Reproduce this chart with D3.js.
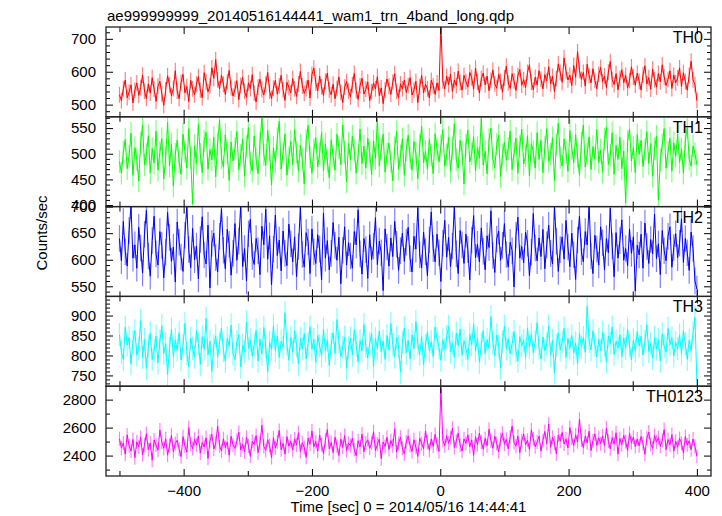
<!DOCTYPE html>
<html><head><meta charset="utf-8">
<script src="https://cdn.jsdelivr.net/npm/d3@7"></script>
<style>
body{margin:0;background:#fff}
text{font-family:"Liberation Sans",Arial,Helvetica,sans-serif}
</style>
</head><body>
<svg id="c" width="722" height="516"></svg>
<script>
const title = "ae999999999_20140516144441_wam1_trn_4band_long.qdp";
const xLabel = "Time [sec] 0 = 2014/05/16 14:44:41";
const yLabel = "Counts/sec";
const bandNames = ["TH0", "TH1", "TH2", "TH3", "TH0123"];
const bandColors = ["#ff0000", "#00ff00", "#0000ff", "#00ffff", "#ff00ff"];
const tStart = -500, tStep = 3;
const xDomain = [-521, 422];
const xTicksMajor = [-400, -200, 0, 200, 400];
const xTicksMinor = [-500, -300, -100, 100, 300];
const yDomains = [[463, 736], [397, 572], [531, 700], [723, 948], [2254, 2896]];
const yMajorStep = [100, 50, 50, 50, 200];
const yMinorStep = [20, 10, 10, 10, 100];
const bandErr = [24, 22, 25, 29, 50];

const th0 = [
530,512,548,575,521,538,560,505,544,566,
528,552,590,541,519,563,535,582,547,510,
556,571,533,498,545,588,560,527,549,603,
541,518,567,592,536,555,509,574,548,530,
562,585,544,521,597,568,539,556,612,580,
637,575,548,590,562,531,569,604,552,526,
547,573,515,558,583,540,522,566,549,591,
535,508,553,577,546,529,562,598,541,519,
550,574,532,557,589,545,513,568,552,536,
579,548,525,563,601,557,534,549,575,520,
592,611,566,542,587,554,528,571,596,545,
530,562,518,549,584,537,506,553,570,541,
524,561,595,543,516,558,580,532,547,569,
512,539,566,548,585,527,551,503,545,578,
556,531,568,594,540,521,563,548,575,537,
558,582,529,544,571,506,553,589,536,562,
548,520,574,557,531,566,543,745,572,548,
586,561,593,540,575,558,602,567,544,589,
570,553,598,582,547,611,568,535,579,596,
560,587,542,574,605,563,550,592,571,538,
581,617,566,549,594,572,543,588,607,559,
576,552,598,621,568,545,583,560,603,577,
548,591,572,615,563,586,540,579,624,597,
568,642,601,575,590,558,619,583,661,604,
577,598,556,623,588,566,609,574,548,592,
613,570,587,552,599,631,576,561,594,545,
580,606,567,589,551,573,615,584,559,596,
571,544,590,618,563,582,547,608,576,553,
595,569,621,584,558,577,603,549,590,566,
581,612,555,597,570,544,589,632,575,561,
512];

const th1 = [
485,462,503,528,471,495,540,458,512,489,
447,521,556,478,499,535,463,510,482,544,
468,503,529,451,492,561,476,518,437,499,
527,484,460,538,505,472,549,493,402,516,
481,557,499,463,525,542,470,508,488,532,
455,519,566,492,474,537,501,448,523,486,
510,543,469,497,528,456,514,551,482,466,
535,490,461,520,573,498,477,546,507,439,
512,484,529,563,470,501,538,458,492,524,
479,547,503,466,517,489,441,526,555,494,
462,508,531,474,500,542,467,519,486,453,
527,495,468,538,512,479,556,503,445,521,
488,534,506,462,497,548,481,515,472,530,
503,459,525,491,568,476,509,538,464,499,
521,485,447,512,543,470,496,529,458,507,
536,493,468,524,501,451,517,553,482,505,
470,528,497,461,539,509,484,515,547,476,
498,532,465,511,559,488,472,526,503,441,
517,546,484,500,533,467,512,492,569,478,
505,461,527,550,489,473,518,536,455,498,
523,487,510,544,469,501,530,462,514,548,
480,496,535,457,520,504,472,541,489,526,
463,512,549,485,499,531,448,518,560,493,
476,529,503,466,545,511,482,537,495,458,
521,556,474,500,533,469,514,490,547,483,
507,464,528,552,479,497,541,460,516,489,
532,471,505,404,524,548,486,512,463,537,
499,526,475,508,543,481,520,456,510,534,
410,488,517,549,472,503,530,466,521,495,
538,483,509,462,527,551,490,476,515,500,
479];

const th2 = [
640,598,672,615,588,655,701,603,628,584,
661,622,575,648,693,607,569,636,682,611,
590,653,627,566,614,689,642,597,624,558,
671,633,605,578,646,702,619,585,659,600,
626,564,638,681,609,592,665,547,631,650,
604,577,644,696,618,583,657,629,571,612,
668,599,635,704,587,621,560,649,676,606,
591,640,617,572,663,628,695,601,645,553,
620,684,608,637,579,654,612,589,667,630,
596,643,568,625,699,610,586,651,634,574,
658,615,593,647,620,562,688,603,636,581,
612,670,627,599,642,555,618,662,590,632,
607,584,653,628,694,611,573,640,619,565,
647,600,626,679,591,635,613,542,658,624,
588,641,606,672,629,580,617,650,597,633,
661,602,577,644,620,698,609,585,652,615,
570,637,690,621,596,648,613,559,631,674,
605,642,587,626,701,611,574,655,628,593,
648,619,562,637,683,604,629,596,660,616,
581,645,623,692,608,576,639,654,599,627,
668,610,586,633,617,549,646,680,603,625,
594,652,631,570,614,687,622,598,641,606,
657,583,628,665,612,592,700,635,578,619,
643,601,674,624,587,650,609,563,637,682,
615,596,653,628,704,607,574,646,620,590,
662,632,581,640,613,697,626,568,651,603,
636,675,599,621,589,658,612,643,541,627,
609,648,584,669,625,593,638,611,686,602,
630,572,655,617,598,644,662,586,623,649,
604,631,677,595,640,613,580,652,621,560,
545];

const th3 = [
852,808,790,871,826,845,779,834,862,801,
818,887,795,840,768,823,856,790,812,848,
781,836,874,805,829,752,818,866,797,839,
813,857,789,824,880,806,771,843,818,796,
862,829,778,847,815,893,801,836,760,825,
849,797,831,868,812,785,844,823,876,804,
790,835,852,771,826,809,884,818,839,798,
827,863,786,841,804,870,822,759,833,815,
874,812,849,795,836,820,907,828,788,845,
808,861,824,779,842,817,855,791,830,872,
816,840,783,851,824,799,866,812,838,775,
828,857,805,890,834,797,821,846,768,819,
843,801,865,826,784,837,812,878,823,794,
831,855,772,842,818,861,809,836,790,850,
814,880,827,796,845,822,758,833,869,806,
838,791,852,817,885,829,803,847,776,825,
859,811,834,797,871,842,820,788,839,815,
847,872,809,831,795,856,824,866,801,837,
818,790,853,827,879,812,844,783,829,862,
805,840,818,897,832,799,851,823,768,835,
873,816,842,804,829,860,811,786,847,824,
838,795,869,821,853,807,835,882,819,791,
846,812,829,874,801,838,756,825,857,814,
833,868,795,842,818,850,806,831,779,855,
821,845,808,923,836,814,862,827,797,840,
811,858,826,784,849,830,871,803,836,819,
852,797,843,818,866,825,789,839,812,860,
824,848,801,835,877,810,830,793,845,816,
839,786,854,822,808,868,827,845,799,833,
817,851,804,862,829,790,838,812,856,895,
735];

const th0123 = [
2520,2455,2490,2410,2548,2470,2432,2515,2385,2498,
2462,2530,2405,2478,2556,2441,2490,2367,2512,2475,
2438,2583,2496,2452,2521,2403,2470,2545,2428,2487,
2510,2446,2392,2535,2468,2425,2599,2481,2450,2516,
2475,2540,2418,2493,2462,2527,2380,2505,2552,2447,
2486,2612,2470,2433,2520,2458,2497,2402,2538,2475,
2451,2509,2566,2440,2483,2426,2531,2468,2395,2502,
2479,2543,2421,2490,2617,2465,2437,2514,2472,2386,
2528,2455,2498,2580,2442,2486,2411,2535,2467,2503,
2440,2519,2475,2563,2429,2492,2457,2388,2524,2481,
2576,2463,2501,2432,2547,2478,2415,2510,2585,2449,
2494,2421,2532,2468,2401,2517,2459,2543,2436,2488,
2471,2525,2443,2399,2506,2462,2554,2427,2490,2513,
2452,2489,2570,2436,2481,2518,2378,2497,2465,2530,
2444,2507,2469,2592,2425,2486,2531,2453,2412,2498,
2540,2472,2429,2513,2461,2394,2524,2487,2449,2576,
2495,2438,2519,2466,2551,2482,2430,2885,2508,2470,
2542,2489,2527,2596,2458,2503,2561,2474,2432,2519,
2486,2548,2463,2512,2401,2535,2478,2560,2497,2445,
2523,2470,2589,2506,2452,2538,2487,2427,2515,2560,
2481,2516,2448,2532,2611,2494,2467,2540,2421,2505,
2553,2476,2510,2444,2583,2520,2463,2497,2539,2432,
2508,2572,2485,2626,2459,2531,2490,2413,2547,2502,
2566,2483,2519,2454,2600,2525,2471,2549,2498,2660,
2512,2457,2538,2491,2574,2436,2506,2555,2473,2527,
2485,2541,2469,2597,2503,2448,2529,2482,2563,2410,
2522,2478,2545,2500,2437,2559,2493,2531,2464,2519,
2470,2537,2486,2409,2524,2568,2481,2452,2543,2497,
2528,2466,2509,2586,2443,2515,2477,2550,2431,2502,
2460,2523,2488,2419,2536,2475,2505,2442,2518,2466,
2395];

const series = [th0, th1, th2, th3, th0123];

const svg = d3.select("#c");
const W = 722, H = 516;
const pLeft = 106, pRight = 711, pTop = 27, pBottom = 476;
const x = d3.scaleLinear().domain(xDomain).range([pLeft, pRight]);
const panelY = d3.scaleLinear().domain([0, series.length]).range([pTop, pBottom]);
const tOf = i => tStart + i * tStep;
const FONT = '"Liberation Sans",Arial,sans-serif';

svg.append("rect").attr("width", W).attr("height", H).attr("fill", "#fff");

function stepTicks(dom, step) {
  const out = [];
  for (let v = Math.ceil(dom[0] / step) * step; v <= dom[1]; v += step) out.push(v);
  return out;
}

series.forEach((vals, b) => {
  const y0 = panelY(b), y1 = panelY(b + 1);
  const y = d3.scaleLinear().domain(yDomains[b]).range([y1, y0]);
  const g = svg.append("g");
  const cid = "clip" + b;
  svg.append("clipPath").attr("id", cid).append("rect")
    .attr("x", pLeft).attr("y", y0).attr("width", pRight - pLeft).attr("height", y1 - y0);
  const data = vals.map((v, i) => ({t: tOf(i), v}));
  const sg = g.append("g").attr("clip-path", `url(#${cid})`);
  sg.selectAll("line.err").data(data).join("line")
    .attr("class", "err")
    .attr("x1", d => x(d.t)).attr("x2", d => x(d.t))
    .attr("y1", d => y(d.v - bandErr[b])).attr("y2", d => y(d.v + bandErr[b]))
    .attr("stroke", bandColors[b]).attr("stroke-opacity", 0.5).attr("stroke-width", 1.2);
  sg.append("path").datum(data)
    .attr("d", d3.line().x(d => x(d.t)).y(d => y(d.v)))
    .attr("fill", "none").attr("stroke", bandColors[b]).attr("stroke-width", 1);

  const majors = stepTicks(yDomains[b], yMajorStep[b]);
  const minors = stepTicks(yDomains[b], yMinorStep[b]).filter(v => !majors.includes(v));
  const la = g.append("g").attr("transform", `translate(${pLeft},0)`)
    .call(d3.axisLeft(y).tickValues(majors).tickSize(-7).tickPadding(10).tickFormat(d3.format("d")));
  la.select(".domain").remove();
  la.selectAll("text").attr("font-size", 15).attr("fill", "#000").attr("font-family", FONT);
  const lm = g.append("g").attr("transform", `translate(${pLeft},0)`)
    .call(d3.axisLeft(y).tickValues(minors).tickSize(-4).tickFormat(""));
  lm.select(".domain").remove();
  const ra = g.append("g").attr("transform", `translate(${pRight},0)`)
    .call(d3.axisRight(y).tickValues(majors).tickSize(-7).tickFormat(""));
  ra.select(".domain").remove();
  const rm = g.append("g").attr("transform", `translate(${pRight},0)`)
    .call(d3.axisRight(y).tickValues(minors).tickSize(-4).tickFormat(""));
  rm.select(".domain").remove();
  [["top", y0], ["bottom", y1]].forEach(([side, yy]) => {
    const isLast = side === "bottom" && b === series.length - 1;
    const axF = side === "top" ? d3.axisTop : d3.axisBottom;
    const ax = g.append("g").attr("transform", `translate(0,${yy})`)
      .call(axF(x).tickValues(xTicksMajor).tickSize(-7).tickPadding(9)
        .tickFormat(isLast ? d3.format("") : () => ""));
    ax.select(".domain").remove();
    ax.selectAll("text").attr("font-size", 15).attr("fill", "#000").attr("font-family", FONT);
    const am = g.append("g").attr("transform", `translate(0,${yy})`)
      .call(axF(x).tickValues(xTicksMinor).tickSize(-5).tickFormat(""));
    am.select(".domain").remove();
  });
  g.selectAll(".tick line").attr("stroke", "#000").attr("stroke-width", 1);
  g.append("rect").attr("x", pLeft).attr("y", y0).attr("width", pRight - pLeft).attr("height", y1 - y0)
    .attr("fill", "none").attr("stroke", "#222").attr("stroke-width", 1.3);
  g.append("text").attr("x", 703).attr("y", y0 + 16).attr("text-anchor", "end")
    .attr("font-size", 16).attr("fill", "#000").text(bandNames[b]);
});

svg.append("text").attr("x", 107).attr("y", 21).attr("font-size", 15).attr("fill", "#000").text(title);
svg.append("text").attr("x", (pLeft + pRight) / 2).attr("y", 512).attr("text-anchor", "middle")
  .attr("font-size", 15).attr("fill", "#000").text(xLabel);
svg.append("text").attr("transform", `translate(47,233) rotate(-90)`)
  .attr("text-anchor", "middle").attr("font-size", 15).attr("fill", "#000").text(yLabel);
</script>
</body></html>
